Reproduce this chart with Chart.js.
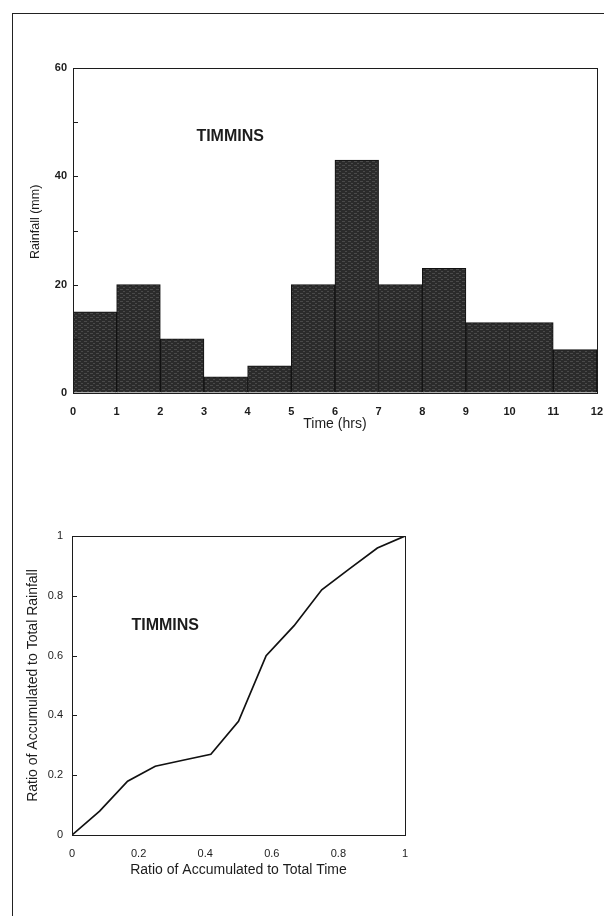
<!DOCTYPE html>
<html>
<head>
<meta charset="utf-8">
<script src="https://cdn.jsdelivr.net/npm/chart.js@4/dist/chart.umd.min.js"></script>
<style>
    html, body { margin: 0; padding: 0; background: #fff; }
    #page { position: relative; width: 604px; height: 916px; overflow: hidden; }
    #frame {
        position: absolute; left: 12px; top: 13px; width: 620px; height: 920px;
        border-left: 1.5px solid #222; border-top: 1.5px solid #222;
    }
    #rainChart { position: absolute; left: 0; top: 0; }
    #massChart { position: absolute; left: 0; top: 460px; }
</style>
</head>
<body>
<div id="page">
    <div id="frame"></div>
    <canvas id="rainChart" width="604" height="450"></canvas>
    <canvas id="massChart" width="604" height="456"></canvas>
</div>
<script>
// hourly rainfall, bar centred on each hour interval
const hourMid = [0.5, 1.5, 2.5, 3.5, 4.5, 5.5, 6.5, 7.5, 8.5, 9.5, 10.5, 11.5];
const rainfall = [15, 20, 10, 3, 5, 20, 43, 20, 23, 13, 13, 8];

// mass curve
const timeRatio = [0, 0.083, 0.167, 0.25, 0.333, 0.417, 0.5, 0.583, 0.667, 0.75, 0.833, 0.917, 1];
const rainRatio = [0, 0.08, 0.18, 0.23, 0.25, 0.27, 0.38, 0.60, 0.70, 0.82, 0.89, 0.96, 1];

const stationName = 'TIMMINS';
const fontFamily = '"Liberation Sans", Arial, Helvetica, sans-serif';
const ink = '#1c1c1c';
const nbsp = '\u00A0';

// dark stippled fill like the scanned bars
function barPattern() {
    const c = document.createElement('canvas');
    c.width = 6; c.height = 4;
    const g = c.getContext('2d');
    g.fillStyle = '#2b2b2b';
    g.fillRect(0, 0, 6, 4);
    g.fillStyle = '#4a4a4a';
    g.fillRect(0, 1, 3, 1);
    g.fillRect(3, 3, 2, 1);
    return g.createPattern(c, 'repeat');
}

// box round the plot, inward ticks on y, station label
const framePlugin = {
    id: 'framePlugin',
    afterDraw(chart) {
        const { ctx, chartArea: a, scales } = chart;
        const opts = chart.options.plugins.framePlugin;
        ctx.save();
        ctx.strokeStyle = ink;
        ctx.lineWidth = 1;
        ctx.strokeRect(Math.round(a.left) + 0.5, Math.round(a.top) + 0.5,
            Math.round(a.width), Math.round(a.height));
        scales.y.ticks.forEach(t => {
            const y = Math.round(scales.y.getPixelForValue(t.value)) + 0.5;
            ctx.beginPath();
            ctx.moveTo(a.left, y);
            ctx.lineTo(a.left + 5, y);
            ctx.stroke();
        });
        ctx.fillStyle = ink;
        ctx.font = 'bold 16px ' + fontFamily;
        ctx.textAlign = 'center';
        ctx.textBaseline = 'middle';
        ctx.fillText(opts.text,
            scales.x.getPixelForValue(opts.x),
            scales.y.getPixelForValue(opts.y));
        ctx.restore();
    }
};

function fixWidth(w) { return s => { s.width = w; }; }
function fixHeight(h) { return s => { s.height = h; }; }

new Chart(document.getElementById('rainChart'), {
    type: 'bar',
    data: {
        datasets: [{
            data: hourMid.map((x, i) => ({ x: x, y: rainfall[i] })),
            backgroundColor: barPattern(),
            borderColor: '#111',
            borderWidth: 1,
            barPercentage: 1,
            categoryPercentage: 1
        }]
    },
    options: {
        responsive: false,
        animation: false,
        layout: { padding: { left: 24, top: 68, right: 7, bottom: 13 } },
        plugins: {
            legend: { display: false },
            tooltip: { enabled: false },
            framePlugin: { text: stationName, x: 3.6, y: 47.3 }
        },
        scales: {
            x: {
                type: 'linear',
                min: 0, max: 12,
                offset: false,
                afterFit: fixHeight(44),
                grid: {
                    drawOnChartArea: false, offset: false,
                    tickLength: 11, tickColor: 'rgba(0,0,0,0)'
                },
                border: { color: ink },
                ticks: {
                    stepSize: 1, padding: 1, color: ink, maxRotation: 0,
                    font: { family: fontFamily, size: 11, weight: 'bold' }
                },
                title: {
                    display: true, text: 'Time (hrs)', color: ink,
                    font: { family: fontFamily, size: 14 }
                }
            },
            y: {
                min: 0, max: 60,
                afterFit: fixWidth(49),
                grid: { drawOnChartArea: false, drawTicks: false },
                border: { color: ink },
                ticks: {
                    stepSize: 10, padding: 6, color: ink,
                    font: { family: fontFamily, size: 11, weight: 'bold' },
                    callback: v => (v % 20 === 0 ? v : '')
                },
                title: {
                    display: true, text: nbsp.repeat(5) + 'Rainfall (mm)', color: ink,
                    font: { family: fontFamily, size: 12.5 }
                }
            }
        }
    },
    plugins: [framePlugin]
});

new Chart(document.getElementById('massChart'), {
    type: 'line',
    data: {
        datasets: [{
            data: timeRatio.map((x, i) => ({ x: x, y: rainRatio[i] })),
            borderColor: '#111',
            borderWidth: 1.7,
            pointRadius: 0,
            tension: 0,
            fill: false
        }]
    },
    options: {
        responsive: false,
        animation: false,
        layout: { padding: { left: 21, top: 76, right: 199, bottom: 33 } },
        plugins: {
            legend: { display: false },
            tooltip: { enabled: false },
            framePlugin: { text: stationName, x: 0.28, y: 0.70 }
        },
        scales: {
            x: {
                type: 'linear',
                min: 0, max: 1,
                afterFit: fixHeight(48),
                grid: {
                    drawOnChartArea: false,
                    tickLength: 10, tickColor: 'rgba(0,0,0,0)'
                },
                border: { color: ink },
                ticks: {
                    stepSize: 0.2, padding: 2, color: ink, maxRotation: 0,
                    font: { family: fontFamily, size: 11 },
                    callback: v => String(Number(v.toFixed(1)))
                },
                title: {
                    display: true, text: 'Ratio of Accumulated to Total Time', color: ink,
                    font: { family: fontFamily, size: 14 }
                }
            },
            y: {
                min: 0, max: 1,
                afterFit: fixWidth(51),
                grid: { drawOnChartArea: false, drawTicks: false },
                border: { color: ink },
                ticks: {
                    stepSize: 0.2, padding: 9, color: ink,
                    font: { family: fontFamily, size: 11 },
                    callback: v => String(Number(v.toFixed(1)))
                },
                title: {
                    display: true, text: 'Ratio of Accumulated to Total Rainfall', color: ink,
                    font: { family: fontFamily, size: 14 }
                }
            }
        }
    },
    plugins: [framePlugin]
});
</script>
</body>
</html>
